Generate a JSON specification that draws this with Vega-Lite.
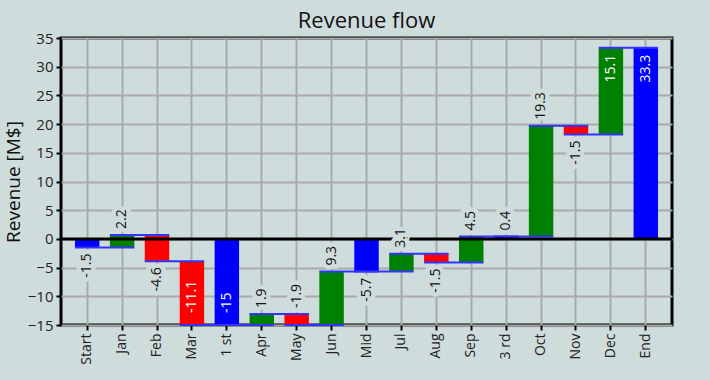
{
  "$schema": "https://vega.github.io/schema/vega-lite/v6.json",
  "width": 611,
  "height": 287,
  "autosize": {"type": "none"},
  "padding": {"left": 61, "top": 38, "right": 38, "bottom": 55},
  "background": "#cfdcdc",
  "title": {"text": "Revenue flow", "fontSize": 22, "fontWeight": "normal", "color": "#111111", "offset": -2, "anchor": "middle", "font": "Open Sans"},
  "config": {
    "font": "Open Sans",
    "view": {"stroke": "black", "strokeWidth": 3},
    "axis": {
      "domain": false,
      "gridColor": "#aaaaaa",
      "gridWidth": 2,
      "gridOpacity": 1,
      "tickColor": "black",
      "tickWidth": 2,
      "tickSize": 5,
      "labelFontSize": 15,
      "labelColor": "#222222",
      "labelFont": "Open Sans",
      "titleFont": "Open Sans",
      "titleFontSize": 19,
      "titleFontWeight": "normal",
      "titleColor": "#111111"
    }
  },
  "data": {
    "values": [
      {"label": "Start", "type": "total", "start": 0, "end": -1.5, "amount": -1.5},
      {"label": "Jan", "type": "increase", "start": -1.5, "end": 0.7, "amount": 2.2},
      {"label": "Feb", "type": "decrease", "start": 0.7, "end": -3.9, "amount": -4.6},
      {"label": "Mar", "type": "decrease", "start": -3.9, "end": -15, "amount": -11.1},
      {"label": "1 st", "type": "total", "start": 0, "end": -15, "amount": -15},
      {"label": "Apr", "type": "increase", "start": -15, "end": -13.1, "amount": 1.9},
      {"label": "May", "type": "decrease", "start": -13.1, "end": -15, "amount": -1.9},
      {"label": "Jun", "type": "increase", "start": -15, "end": -5.7, "amount": 9.3},
      {"label": "Mid", "type": "total", "start": 0, "end": -5.7, "amount": -5.7},
      {"label": "Jul", "type": "increase", "start": -5.7, "end": -2.6, "amount": 3.1},
      {"label": "Aug", "type": "decrease", "start": -2.6, "end": -4.1, "amount": -1.5},
      {"label": "Sep", "type": "increase", "start": -4.1, "end": 0.4, "amount": 4.5},
      {"label": "3 rd", "type": "total", "start": 0, "end": 0.4, "amount": 0.4},
      {"label": "Oct", "type": "increase", "start": 0.4, "end": 19.7, "amount": 19.3},
      {"label": "Nov", "type": "decrease", "start": 19.7, "end": 18.2, "amount": -1.5},
      {"label": "Dec", "type": "increase", "start": 18.2, "end": 33.3, "amount": 15.1},
      {"label": "End", "type": "total", "start": 0, "end": 33.3, "amount": 33.3}
    ]
  },
  "transform": [
    {"window": [{"op": "lead", "field": "label", "as": "next"}]},
    {"calculate": "max(datum.start, datum.end)", "as": "top"},
    {"calculate": "min(datum.start, datum.end)", "as": "bottom"},
    {"calculate": "datum.end > 28 ? 'intop' : (datum.end <= -15 && abs(datum.amount) > 5) ? 'inbottom' : (datum.amount >= 0 || datum.end <= -15) ? 'up' : 'down'", "as": "place"}
  ],
  "encoding": {
    "x": {"field": "label", "type": "nominal", "sort": null, "title": null,
      "scale": {"paddingInner": 0.3, "paddingOuter": 0.4},
      "axis": {"labelAngle": 270, "labelAlign": "right", "labelBaseline": "middle", "labelPadding": 3, "labelFontSize": 14, "grid": true, "labelOverlap": false}}
  },
  "layer": [
    {
      "mark": {"type": "bar"},
      "encoding": {
        "y": {"field": "start", "type": "quantitative", "title": "Revenue [M$]",
          "scale": {"domain": [-15, 35], "nice": false, "zero": false},
          "axis": {"tickCount": 10, "titlePadding": 4, "labelPadding": 3, "labelOverlap": false, "labelFlush": false}},
        "y2": {"field": "end"},
        "color": {"field": "type", "type": "nominal", "legend": null,
          "scale": {"domain": ["total", "increase", "decrease"], "range": ["#0000ff", "#008000", "#ff0000"]}}
      }
    },
    {
      "transform": [{"filter": "datum.next != null"}],
      "mark": {"type": "rule", "color": "#3333ff", "strokeWidth": 2},
      "encoding": {
        "x": {"field": "label", "type": "nominal", "sort": null, "bandPosition": 0},
        "x2": {"field": "next", "bandPosition": 1},
        "y": {"field": "end", "type": "quantitative"}
      }
    },
    {
      "transform": [{"filter": "datum.label == 'Start'"}],
      "mark": {"type": "rule", "color": "black", "strokeWidth": 3},
      "encoding": {"x": null, "y": {"datum": 0, "type": "quantitative"}}
    },
    {
      "transform": [{"filter": "datum.place == 'up'"}],
      "encoding": {
        "y": {"field": "top", "type": "quantitative"},
        "text": {"field": "amount", "type": "nominal"}
      },
      "layer": [
        {"mark": {"type": "text", "angle": 270, "align": "left", "baseline": "middle", "dx": 6, "fontSize": 14, "fill": "#cfdcdc", "stroke": "#cfdcdc", "strokeWidth": 9, "strokeJoin": "round"}},
        {"mark": {"type": "text", "angle": 270, "align": "left", "baseline": "middle", "dx": 6, "fontSize": 14, "color": "#111111"}}
      ]
    },
    {
      "transform": [{"filter": "datum.place == 'down'"}],
      "encoding": {
        "y": {"field": "bottom", "type": "quantitative"},
        "text": {"field": "amount", "type": "nominal"}
      },
      "layer": [
        {"mark": {"type": "text", "angle": 270, "align": "right", "baseline": "middle", "dx": -6, "fontSize": 14, "fill": "#cfdcdc", "stroke": "#cfdcdc", "strokeWidth": 9, "strokeJoin": "round"}},
        {"mark": {"type": "text", "angle": 270, "align": "right", "baseline": "middle", "dx": -6, "fontSize": 14, "color": "#111111"}}
      ]
    },
    {
      "transform": [{"filter": "datum.place == 'intop'"}],
      "mark": {"type": "text", "angle": 270, "align": "right", "baseline": "middle", "dx": -7, "fontSize": 14, "color": "white"},
      "encoding": {
        "y": {"field": "top", "type": "quantitative"},
        "text": {"field": "amount", "type": "nominal"}
      }
    },
    {
      "transform": [{"filter": "datum.place == 'inbottom'"}],
      "mark": {"type": "text", "angle": 270, "align": "left", "baseline": "middle", "dx": 12, "fontSize": 14, "color": "white"},
      "encoding": {
        "y": {"field": "bottom", "type": "quantitative"},
        "text": {"field": "amount", "type": "nominal"}
      }
    }
  ]
}
